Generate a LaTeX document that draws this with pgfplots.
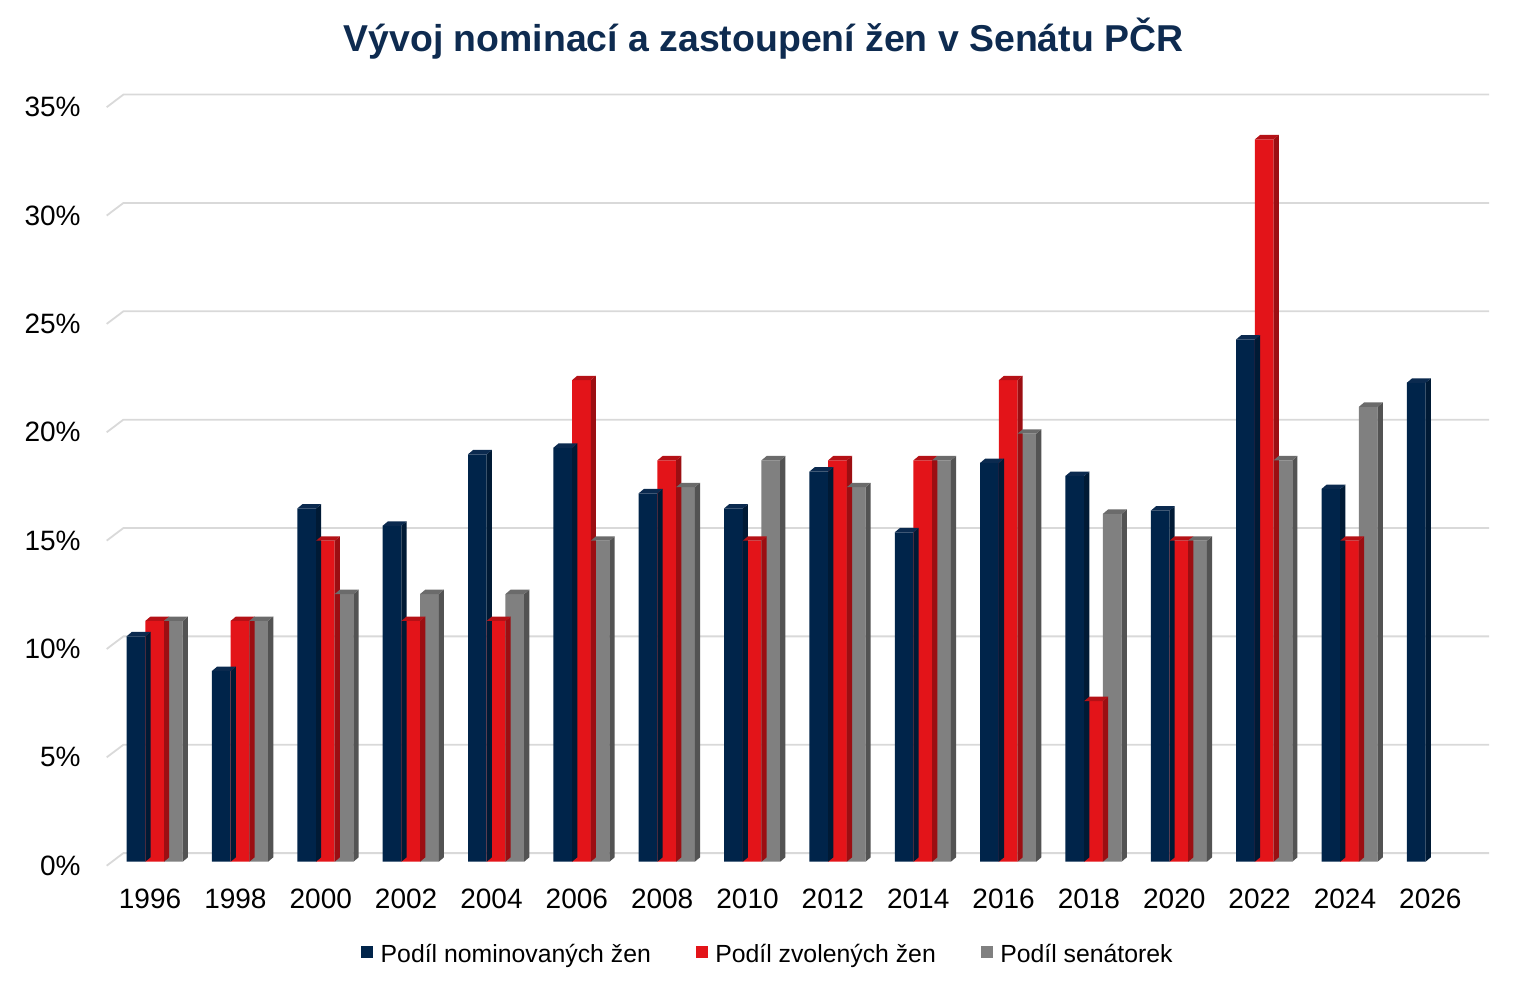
\documentclass[border=0pt]{standalone}
\usepackage{fontspec}
\setmainfont{Liberation Sans}
\usepackage{pgfplots}
\pgfplotsset{compat=1.18}
\usepackage{pgfplotstable}

\definecolor{navyF}{HTML}{00244A}
\definecolor{navyS}{HTML}{001A35}
\definecolor{navyT}{HTML}{0B2A4F}
\definecolor{redF}{HTML}{E31419}
\definecolor{redS}{HTML}{9C0E12}
\definecolor{redT}{HTML}{B51116}
\definecolor{grayF}{HTML}{808080}
\definecolor{grayS}{HTML}{535353}
\definecolor{grayT}{HTML}{6B6B6B}
\definecolor{gridc}{HTML}{D9D9D9}
\definecolor{titlec}{HTML}{0E2B50}

\pgfplotstableread{
x nom zvol sen
0 10.4 11.11 11.11
1 8.8 11.11 11.11
2 16.3 14.81 12.35
3 15.5 11.11 12.35
4 18.8 11.11 12.35
5 19.1 22.22 14.81
6 17.0 18.52 17.28
7 16.3 14.81 18.52
8 18.0 18.52 17.28
9 15.2 18.52 18.52
10 18.4 22.22 19.75
11 17.8 7.41 16.05
12 16.2 14.81 14.81
13 24.1 33.33 18.52
14 17.2 14.81 20.99
15 22.1 nan nan
}\datatable

% 3D side and top faces of a bar, drawn at the data point
\newcommand\declfaces[4]{%
  \pgfdeclareplotmark{#1}{%
    \pgfmathsetmacro\hh{\rawyv*10.8357}%
    \pgfmathsetmacro\xl{#2-4.675}%
    \pgfmathsetmacro\xr{#2+4.675}%
    \pgfsetfillcolor{#3}%
    \pgfpathmoveto{\pgfpoint{\xr pt}{0pt}}%
    \pgfpathlineto{\pgfpoint{\xr pt+2.6pt}{2.2pt}}%
    \pgfpathlineto{\pgfpoint{\xr pt+2.6pt}{2.2pt-\hh pt}}%
    \pgfpathlineto{\pgfpoint{\xr pt}{-\hh pt}}%
    \pgfpathclose
    \pgfusepath{fill}%
    \pgfsetfillcolor{#4}%
    \pgfpathmoveto{\pgfpoint{\xl pt}{0pt}}%
    \pgfpathlineto{\pgfpoint{\xr pt}{0pt}}%
    \pgfpathlineto{\pgfpoint{\xr pt+2.6pt}{2.2pt}}%
    \pgfpathlineto{\pgfpoint{\xl pt+2.6pt}{2.2pt}}%
    \pgfpathclose
    \pgfusepath{fill}%
  }%
}
\declfaces{facenavy}{-9.35}{navyS}{navyT}
\declfaces{facered}{0}{redS}{redT}
\declfaces{facegray}{9.35}{grayS}{grayT}

\begin{document}
\begin{tikzpicture}
\useasboundingbox (0,0) rectangle (763pt,493pt);
\node[anchor=base, text=titlec, font=\fontsize{18.7}{22}\selectfont\bfseries]
  at (381.8pt,467.15pt) {Vývoj nominací a zastoupení žen v Senátu PČR};
\begin{axis}[
  at={(56pt,62.15pt)}, anchor=south west,
  x=42.675pt, y=10.8357pt,
  xmin=-0.5, xmax=15.5, ymin=0, ymax=35,
  clip=false,
  axis line style={draw=none},
  tick style={draw=none},
  major tick length=0pt,
  xtick={0,...,15},
  xticklabels={1996,1998,2000,2002,2004,2006,2008,2010,2012,2014,2016,2018,2020,2022,2024,2026},
  ytick={0,5,...,35},
  yticklabels={0\%,5\%,10\%,15\%,20\%,25\%,30\%,35\%},
  ticklabel style={font=\fontsize{14}{16}\selectfont, text=black},
  xticklabel style={anchor=base, yshift=-23.3pt, xshift=-2.3pt},
  yticklabel style={anchor=east, inner sep=0pt, xshift=-15.5pt, yshift=-2pt},
  legend style={at={(0.4796,-0.1233)}, anchor=center, draw=none, fill=none,
    legend columns=-1, font=\fontsize{12.4}{14}\selectfont,
    inner sep=0pt, nodes={inner sep=0pt},
    /tikz/every odd column/.append style={column sep=3.85pt},
    /tikz/every even column/.append style={column sep=22.5pt}},
  legend image code/.code={\fill[#1,draw=none] (0pt,-1.3pt) rectangle (5.85pt,4.55pt);},
]
\pgfplotsinvokeforeach{0,5,...,35}{
  \draw[gridc, line width=0.9pt] ([xshift=-2.65pt,yshift=-2pt]axis cs:-0.5,#1)
     -- ([xshift=5.7pt,yshift=4.3pt]axis cs:-0.5,#1)
     -- ([xshift=5.7pt,yshift=4.3pt]axis cs:15.5,#1);
}
\addplot[ybar, bar width=9.35pt, bar shift=-9.35pt, fill=navyF, draw=none] table[x=x,y=nom] {\datatable};
\addlegendentry{Podíl nominovaných žen}
\addplot[forget plot, only marks, mark=facenavy, visualization depends on={rawy \as \rawyv}] table[x=x,y=nom] {\datatable};
\addplot[ybar, bar width=9.35pt, bar shift=0pt, fill=redF, draw=none] table[x=x,y=zvol] {\datatable};
\addlegendentry{Podíl zvolených žen}
\addplot[forget plot, only marks, mark=facered, visualization depends on={rawy \as \rawyv}] table[x=x,y=zvol] {\datatable};
\addplot[ybar, bar width=9.35pt, bar shift=9.35pt, fill=grayF, draw=none] table[x=x,y=sen] {\datatable};
\addlegendentry{Podíl senátorek}
\addplot[forget plot, only marks, mark=facegray, visualization depends on={rawy \as \rawyv}] table[x=x,y=sen] {\datatable};
\end{axis}
\end{tikzpicture}
\end{document}
